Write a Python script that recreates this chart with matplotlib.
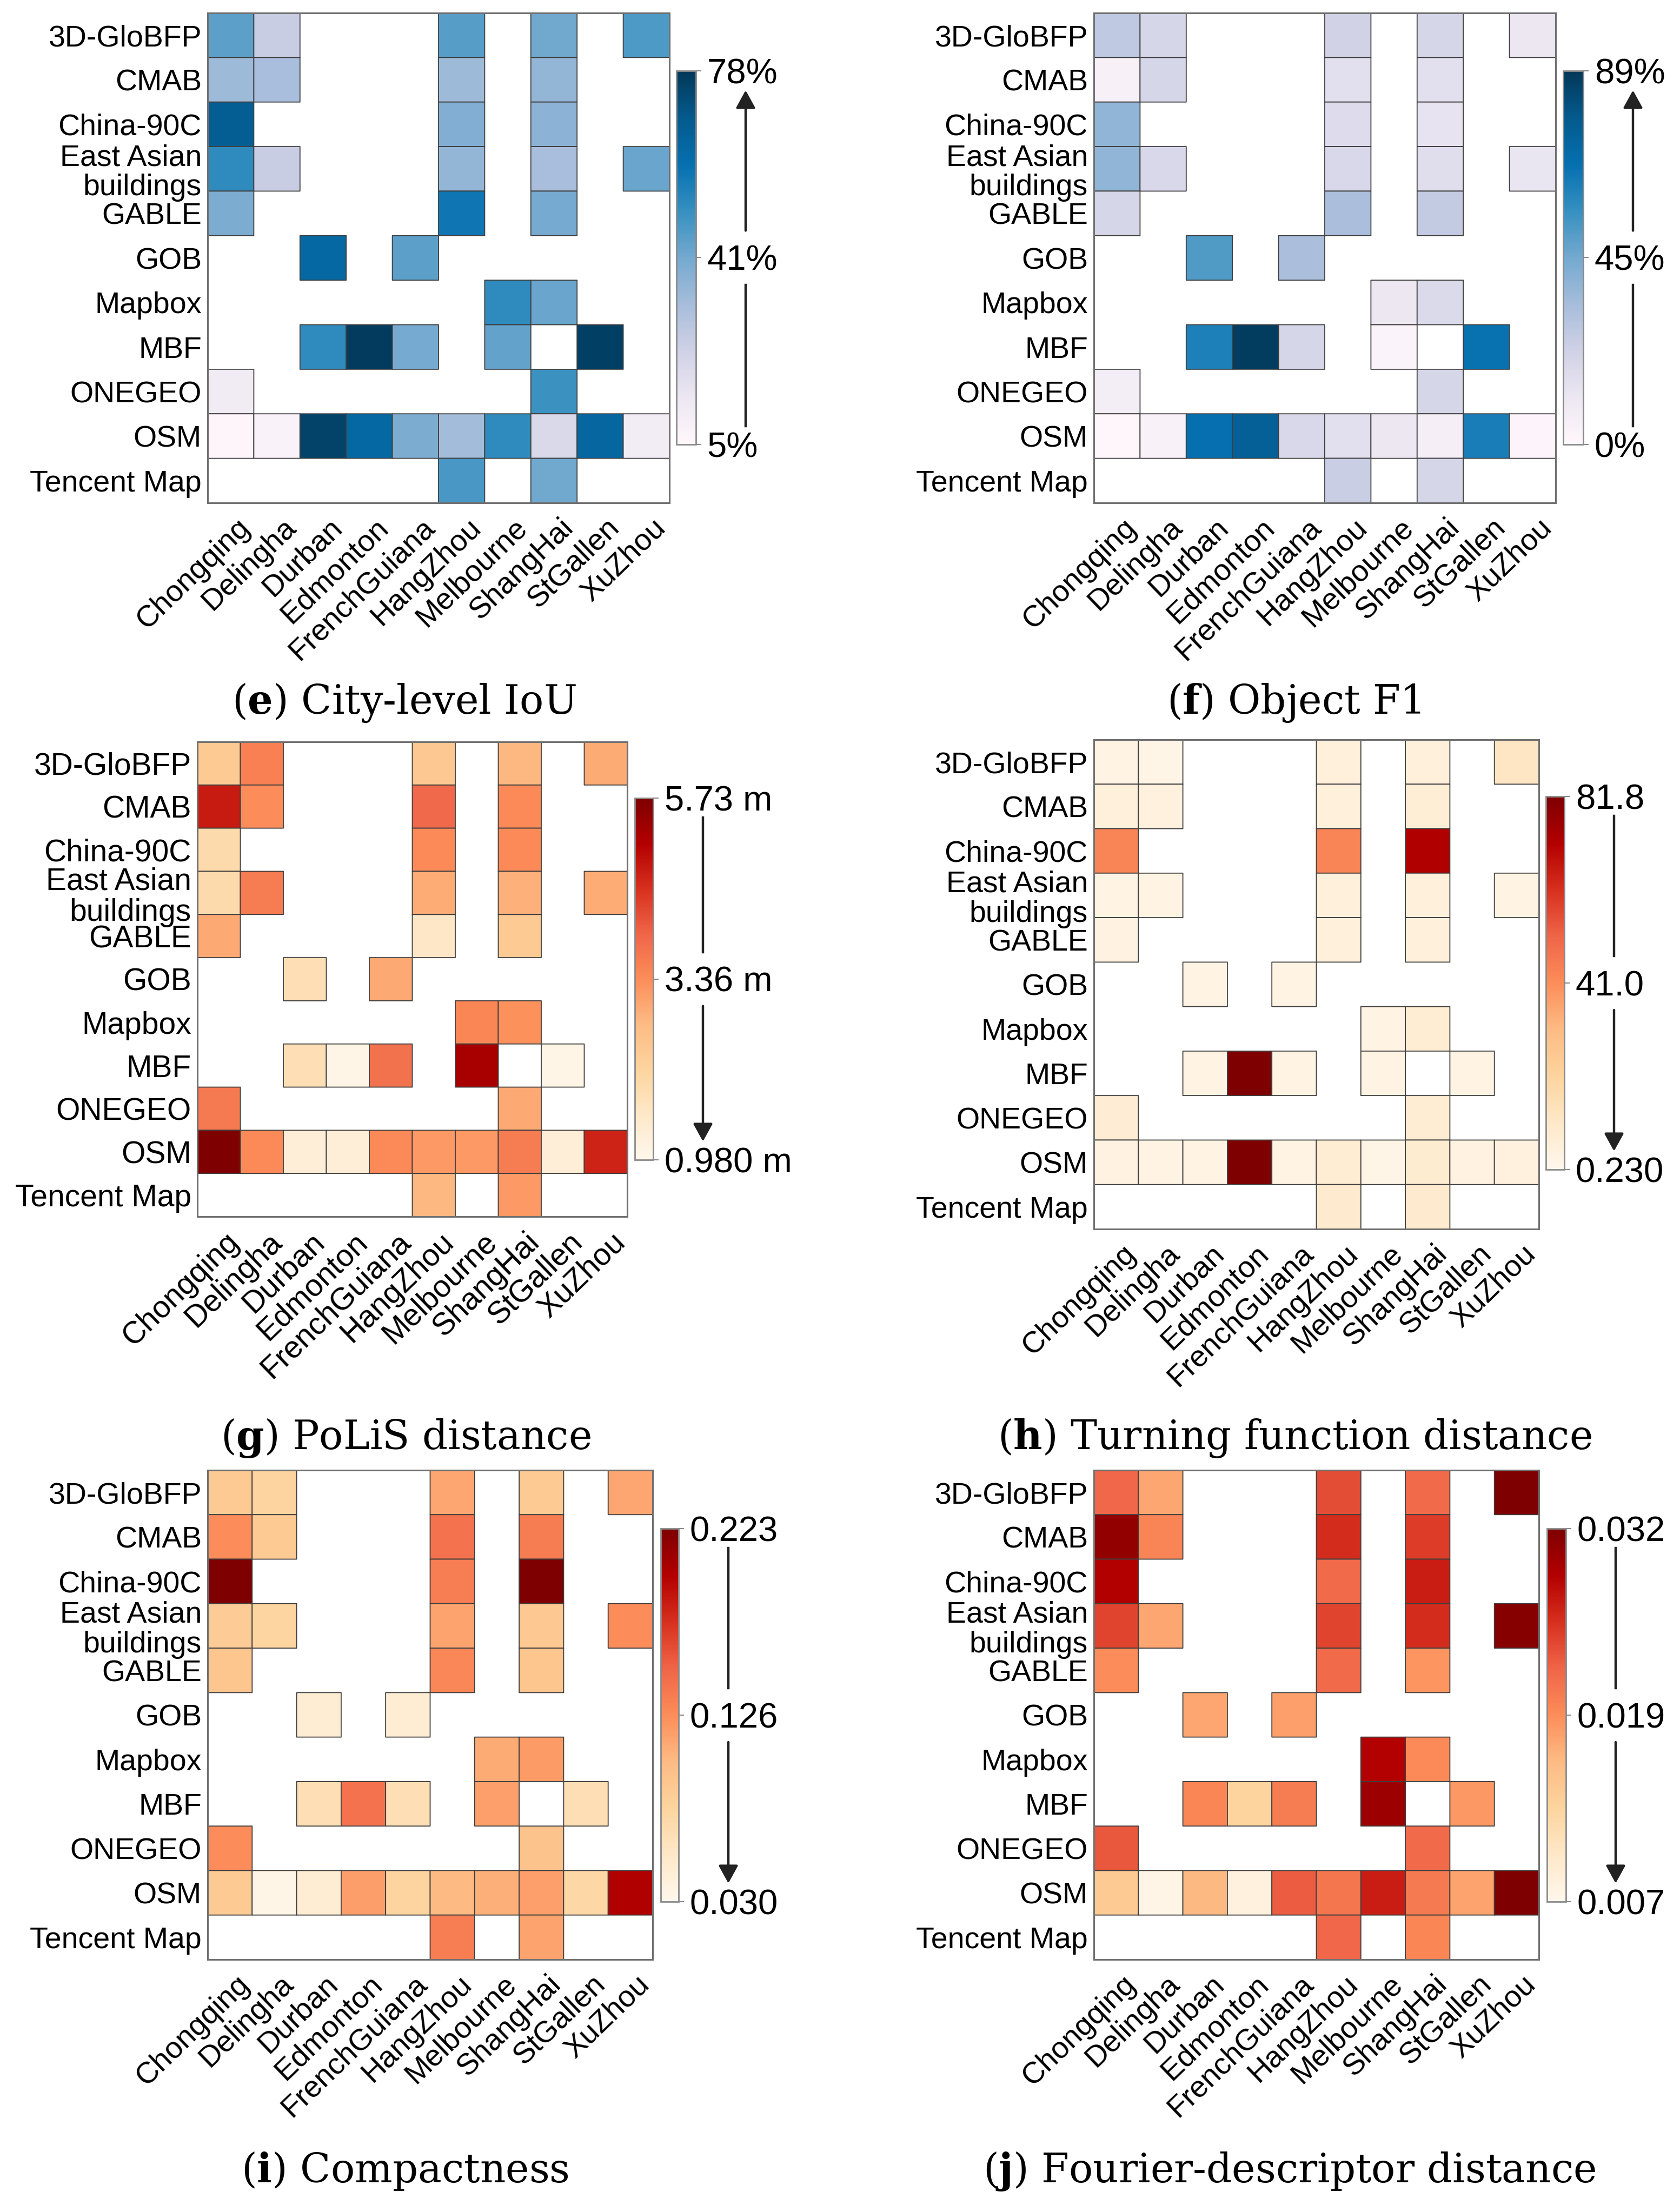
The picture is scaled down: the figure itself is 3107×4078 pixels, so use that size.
import numpy as np
import matplotlib
matplotlib.use("Agg")
import matplotlib.pyplot as plt
import matplotlib.transforms as mtransforms

plt.rcParams['font.family'] = ['Liberation Sans', 'DejaVu Sans']
plt.rcParams['mathtext.fontset'] = 'dejavuserif'

N = None

datasets = ["3D-GloBFP", "CMAB", "China-90C", "East Asian\nbuildings", "GABLE", "GOB",
            "Mapbox", "MBF", "ONEGEO", "OSM", "Tencent Map"]
cities = ["Chongqing", "Delingha", "Durban", "Edmonton", "FrenchGuiana", "HangZhou",
          "Melbourne", "ShangHai", "StGallen", "XuZhou"]

# (e) City-level IoU (%)
iou = [
    [45, 25, N, N, N, 46, N, 42, N, 47],
    [34, 32, N, N, N, 34, N, 36, N, N],
    [67, N, N, N, N, 39, N, 37, N, N],
    [52, 25, N, N, N, 36, N, 32, N, 43],
    [40, N, N, N, N, 58, N, 41, N, N],
    [N, N, 63, N, 45, N, N, N, N, N],
    [N, N, N, N, N, N, 52, 43, N, N],
    [N, N, 52, 77, 41, N, 44, N, 76, N],
    [12, N, N, N, N, N, N, 50, N, N],
    [6, 8, 75, 63, 40, 33, 52, 20, 64, 11],
    [N, N, N, N, N, 48, N, 42, N, N],
]
# (f) Object F1 (%)
f1 = [
    [27, 20, N, N, N, 22, N, 20, N, 11],
    [5, 20, N, N, N, 15, N, 15, N, N],
    [38, N, N, N, N, 17, N, 13, N, N],
    [38, 19, N, N, N, 19, N, 16, N, 12],
    [20, N, N, N, N, 32, N, 26, N, N],
    [N, N, 51, N, 32, N, N, N, N, N],
    [N, N, N, N, N, N, 11, 18, N, N],
    [N, N, 61, 87, 20, N, 3, N, 66, N],
    [7, N, N, N, N, N, N, 20, N, N],
    [1, 4, 67, 75, 19, 15, 11, 6, 62, 2],
    [N, N, N, N, N, 24, N, 20, N, N],
]
# (g) PoLiS distance (m)
polis = [
    [2.40, 3.55, N, N, N, 2.45, N, 2.80, N, 2.98],
    [4.80, 3.36, N, N, N, 3.88, N, 3.40, N, N],
    [2.00, N, N, N, N, 3.40, N, 3.40, N, N],
    [2.00, 3.60, N, N, N, 2.95, N, 2.90, N, 2.95],
    [3.00, N, N, N, N, 1.60, N, 2.40, N, N],
    [N, N, 1.85, N, 3.00, N, N, N, N, N],
    [N, N, N, N, N, N, 3.45, 3.30, N, N],
    [N, N, 1.85, 1.07, 3.75, N, 5.25, N, 1.07, N],
    [3.65, N, N, N, N, N, N, 3.00, N, N],
    [5.73, 3.40, 1.35, 1.35, 3.40, 3.20, 3.20, 3.60, 1.35, 4.70],
    [N, N, N, N, N, 2.80, N, 3.20, N, N],
]
# (h) Turning function distance
turning = [
    [2.7, 1.9, N, N, N, 5.0, N, 5.0, N, 11.5],
    [5.0, 4.3, N, N, N, 5.0, N, 6.7, N, N],
    [43.5, N, N, N, N, 43.5, N, 72.0, N, N],
    [2.5, 2.5, N, N, N, 5.0, N, 5.0, N, 2.5],
    [3.5, N, N, N, N, 5.0, N, 5.0, N, N],
    [N, N, 2.5, N, 2.5, N, N, N, N, N],
    [N, N, N, N, N, N, 3.0, 7.5, N, N],
    [N, N, 2.5, 81.8, 2.5, N, 3.0, N, 2.5, N],
    [7.0, N, N, N, N, N, N, 7.5, N, N],
    [3.5, 2.5, 2.5, 81.8, 2.5, 7.5, 2.0, 8.0, 3.5, 4.5],
    [N, N, N, N, N, 9.0, N, 9.0, N, N],
]
# (i) Compactness
compact = [
    [0.088, 0.078, N, N, N, 0.113, N, 0.088, N, 0.113],
    [0.127, 0.088, N, N, N, 0.142, N, 0.137, N, N],
    [0.223, N, N, N, N, 0.136, N, 0.223, N, N],
    [0.086, 0.077, N, N, N, 0.115, N, 0.090, N, 0.127],
    [0.092, N, N, N, N, 0.130, N, 0.092, N, N],
    [N, N, 0.047, N, 0.047, N, N, N, N, N],
    [N, N, N, N, N, N, 0.111, 0.119, N, N],
    [N, N, 0.065, 0.142, 0.065, N, 0.117, N, 0.065, N],
    [0.127, N, N, N, N, N, N, 0.095, N, N],
    [0.088, 0.034, 0.047, 0.118, 0.078, 0.103, 0.109, 0.117, 0.074, 0.200],
    [N, N, N, N, N, 0.136, N, 0.115, N, N],
]
# (j) Fourier-descriptor distance
fourier = [
    [0.0225, 0.0178, N, N, N, 0.0240, N, 0.0222, N, 0.0320],
    [0.0308, 0.0202, N, N, N, 0.0260, N, 0.0250, N, N],
    [0.0289, N, N, N, N, 0.0222, N, 0.0270, N, N],
    [0.0245, 0.0178, N, N, N, 0.0245, N, 0.0260, N, 0.0315],
    [0.0195, N, N, N, N, 0.0222, N, 0.0190, N, N],
    [N, N, 0.0178, N, 0.0183, N, N, N, N, N],
    [N, N, N, N, N, N, 0.0288, 0.0197, N, N],
    [N, N, 0.0200, 0.0133, 0.0208, N, 0.0302, N, 0.0188, N],
    [0.0235, N, N, N, N, N, N, 0.0222, N, N],
    [0.0145, 0.0075, 0.0165, 0.0083, 0.0232, 0.0213, 0.0270, 0.0210, 0.0180, 0.0320],
    [N, N, N, N, N, 0.0225, N, 0.0200, N, N],
]

ranges = {
    'e': (5, 78), 'f': (0, 89), 'g': (0.98, 5.73),
    'h': (0.23, 81.8), 'i': (0.030, 0.223), 'j': (0.007, 0.032),
}
cbar_labels = {
    'e': ["5%", "41%", "78%"],
    'f': ["0%", "45%", "89%"],
    'g': ["0.980 m", "3.36 m", "5.73 m"],
    'h': ["0.230", "41.0", "81.8"],
    'i': ["0.030", "0.126", "0.223"],
    'j': ["0.007", "0.019", "0.032"],
}
titles = {
    'e': "City-level IoU", 'f': "Object F1", 'g': "PoLiS distance",
    'h': "Turning function distance", 'i': "Compactness", 'j': "Fourier-descriptor distance",
}
values = {'e': iou, 'f': f1, 'g': polis, 'h': turning, 'i': compact, 'j': fourier}
cmaps = {'e': 'PuBu', 'f': 'PuBu', 'g': 'OrRd', 'h': 'OrRd', 'i': 'OrRd', 'j': 'OrRd'}
arrow_up = {'e': True, 'f': True, 'g': False, 'h': False, 'i': False, 'j': False}

W, H = 3107, 4078
DPI = 100
fig = plt.figure(figsize=(W / DPI, H / DPI), dpi=DPI)

# layout in pixels: heatmap box, colorbar box, caption centre
layout = {
    'e': dict(hm=(384, 24, 1238, 930), cb=(1251, 131, 1287, 822), cap=(748, 1300), fs=40),
    'f': dict(hm=(2023, 24, 2877, 930), cb=(2891, 131, 2928, 822), cap=(2393, 1300), fs=40),
    'g': dict(hm=(365, 1372, 1160, 2250), cb=(1174, 1476, 1208, 2145), cap=(750, 2660), fs=41),
    'h': dict(hm=(2023, 1368, 2846, 2273), cb=(2859, 1473, 2893, 2163), cap=(2394, 2660), fs=40),
    'i': dict(hm=(384, 2719, 1207, 3624), cb=(1222, 2827, 1255, 3517), cap=(749, 4016), fs=40),
    'j': dict(hm=(2023, 2719, 2846, 3624), cb=(2861, 2827, 2896, 3517), cap=(2385, 4016), fs=40),
}


def px_axes(box):
    l, t, r, b = box
    return fig.add_axes([l / W, 1 - b / H, (r - l) / W, (b - t) / H])


for key in ['e', 'f', 'g', 'h', 'i', 'j']:
    lay = layout[key]
    vmin, vmax = ranges[key]
    arr = np.array([[np.nan if v is None else v for v in row] for row in values[key]], dtype=float)
    data = np.ma.masked_invalid(arr)

    ax = px_axes(lay['hm'])
    pc = ax.pcolor(np.arange(len(cities) + 1), np.arange(len(datasets) + 1), data,
                   cmap=cmaps[key], vmin=vmin, vmax=vmax,
                   edgecolors='#3f3f3f', linewidth=1.3)
    ax.set_xlim(0, len(cities))
    ax.set_ylim(len(datasets), 0)
    for sp in ax.spines.values():
        sp.set_edgecolor('#707070')
        sp.set_linewidth(2.2)
    ax.set_yticks(np.arange(len(datasets)) + 0.5)
    ax.set_yticklabels(datasets, fontsize=lay['fs'], linespacing=1.08)
    ax.set_xticks(np.arange(len(cities)) + 0.5)
    ax.set_xticklabels(cities, fontsize=lay['fs'], rotation=44, ha='right',
                       rotation_mode='anchor')
    ax.tick_params(axis='both', length=0)
    ax.tick_params(axis='y', pad=8)
    ax.tick_params(axis='x', pad=14)
    offset = mtransforms.ScaledTranslation(10 / DPI, 0, fig.dpi_scale_trans)
    for lab in ax.get_xticklabels():
        lab.set_transform(lab.get_transform() + offset)

    cax = px_axes(lay['cb'])
    cb = fig.colorbar(pc, cax=cax)
    mid = (vmin + vmax) / 2
    cb.set_ticks([vmin, mid, vmax])
    cb.set_ticklabels(cbar_labels[key])
    cb.outline.set_edgecolor('#8a8a8a')
    cb.outline.set_linewidth(2.0)
    cax.tick_params(length=7, width=1.5, color='#8a8a8a', pad=8, labelsize=47)

    # arrow beside the colorbar (direction of better score)
    l, t, r, b = lay['cb']
    xa = (r + 92) / W
    ymid_px = (t + b) / 2
    top_px, bot_px = t + 36, b - 34
    gap = 50
    to_f = lambda ypx: 1 - ypx / H
    if arrow_up[key]:
        line = ((xa, to_f(bot_px)), (xa, to_f(ymid_px + gap)))
        arr_from, arr_to = (xa, to_f(ymid_px - gap)), (xa, to_f(top_px))
    else:
        line = ((xa, to_f(top_px)), (xa, to_f(ymid_px - gap)))
        arr_from, arr_to = (xa, to_f(ymid_px + gap)), (xa, to_f(bot_px))
    fig.add_artist(plt.Line2D([line[0][0], line[1][0]], [line[0][1], line[1][1]],
                              transform=fig.transFigure, color='#222222', lw=3.2))
    fig.patches.append(matplotlib.patches.FancyArrowPatch(
        arr_from, arr_to, transform=fig.transFigure, figure=fig,
        arrowstyle='-|>,head_length=1.0,head_width=0.55', mutation_scale=20,
        color='#222222', lw=3.2, shrinkA=0, shrinkB=0))

    cx, cy = lay['cap']
    fig.text(cx / W, 1 - cy / H, r"$(\mathbf{" + key + r"})$ " + titles[key],
             ha='center', va='center', fontsize=53, family='DejaVu Serif')

fig.savefig("out.png", dpi=DPI, facecolor='white')
